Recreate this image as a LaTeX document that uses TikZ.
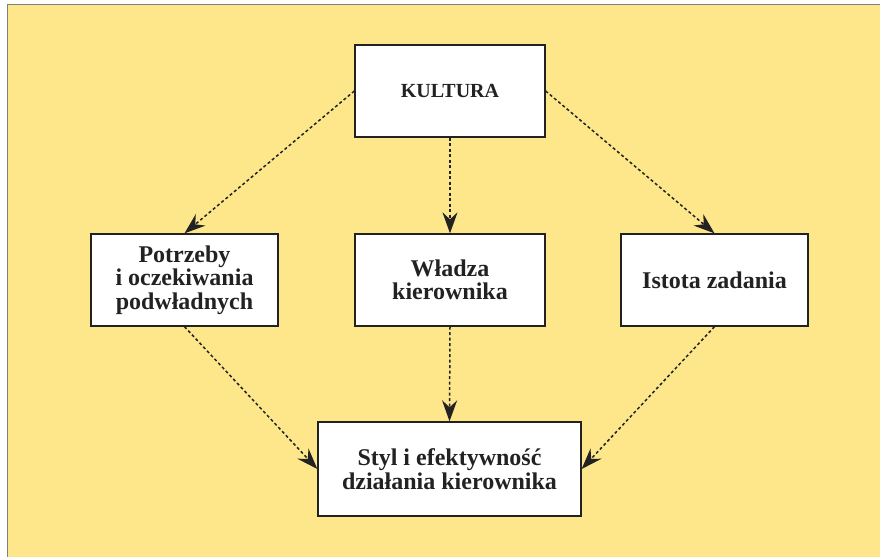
\documentclass[tikz,border=0pt]{standalone}
\usepackage{fontspec}
\setmainfont{Liberation Serif}
\usetikzlibrary{arrows.meta}
\definecolor{paper}{HTML}{FDE78A}
\definecolor{ink}{HTML}{222222}

\begin{document}
\begin{tikzpicture}[x=1pt,y=-1pt,>={Stealth[length=21pt,width=15pt,inset=7pt]},
  box/.style={draw=ink,line width=1.3pt,fill=white,text=ink,align=center,inner sep=0pt,
    minimum height=92pt,font=\bfseries\fontsize{24}{23.5}\selectfont},
  flow/.style={->,draw=ink,line width=1.5pt,dash pattern=on 3pt off 2.5pt}]
% Background
\useasboundingbox (0,0) rectangle (880,557);
\fill[paper] (7.5,4.5) rectangle (880,557);
\draw[gray,line width=1.5pt] (7.5,557) -- (7.5,4.5) -- (880,4.5);

% Boxes
\path (450,91)    node[box,minimum width=190pt,font=\bfseries\fontsize{20}{22}\selectfont] (Kultura) {KULTURA}
      (184.5,280) node[box,minimum width=187pt] (Potrzeby) {Potrzeby\\i oczekiwania\\podwładnych}
      (450,280)   node[box,minimum width=190pt] (Wladza)   {Władza\\kierownika}
      (714.5,280) node[box,minimum width=187pt] (Istota)   {Istota zadania}
      (449.5,469) node[box,minimum width=263pt,minimum height=94pt] (Styl) {Styl i efektywność\\działania kierownika};

% Influences
\draw[flow] (Kultura.west)  -- (Potrzeby.north);
\draw[flow] (Kultura.south) -- (Wladza.north);
\draw[flow] (Kultura.east)  -- (Istota.north);

\draw[flow] (Potrzeby.south) -- (Styl.west);
\draw[flow] (Wladza.south)   -- (Styl.north);
\draw[flow] (Istota.south)   -- (Styl.east);

\end{tikzpicture}
\end{document}
